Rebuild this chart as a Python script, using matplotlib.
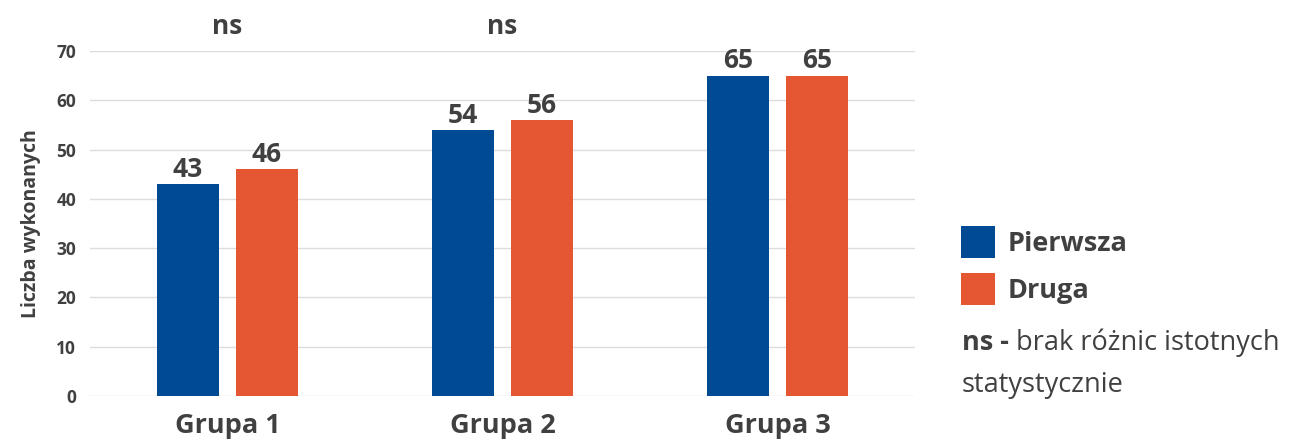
import matplotlib
matplotlib.use("Agg")
import matplotlib.pyplot as plt
import numpy as np

groups = ["Grupa 1", "Grupa 2", "Grupa 3"]
series_names = ["Pierwsza", "Druga"]
pierwsza = [43, 54, 65]
druga = [46, 56, 65]
significance = ["ns", "ns", ""]
y_ticks = [0, 10, 20, 30, 40, 50, 60, 70]

BLUE = "#004A93"
ORANGE = "#E55632"
TEXT = "#404040"
GRID = "#dcdcdc"

plt.rcParams["font.family"] = ["Open Sans", "DejaVu Sans"]

fig = plt.figure(figsize=(13, 4.41), dpi=100)
ax = fig.add_axes([0.0692, 0.102, 0.6346, 0.782])

x = np.arange(len(groups))
width = 0.225
offset = 0.144
b1 = ax.bar(x - offset, pierwsza, width, color=BLUE, label=series_names[0], zorder=3)
b2 = ax.bar(x + offset, druga, width, color=ORANGE, label=series_names[1], zorder=3)

for bars, vals in ((b1, pierwsza), (b2, druga)):
    for rect, v in zip(bars, vals):
        ax.text(rect.get_x() + rect.get_width() / 2, v + 0.3, str(v),
                ha="center", va="bottom", fontsize=19, fontweight="bold", color=TEXT)

for xi, s in zip(x, significance):
    if s:
        ax.text(xi, 1.072, s, transform=ax.get_xaxis_transform(),
                ha="center", va="center", fontsize=19, fontweight="bold", color=TEXT)

ax.set_xlim(-0.5, 2.5)
ax.set_ylim(0, 70)
ax.set_yticks(y_ticks)
ax.set_xticks(x)
ax.set_xticklabels(groups, fontsize=19.5, fontweight="bold", color=TEXT)
ax.tick_params(axis="x", length=0, pad=12)
ax.tick_params(axis="y", length=0, pad=10, labelsize=12.5, labelcolor=TEXT)
for lab in ax.get_yticklabels():
    lab.set_fontweight("bold")
ax.yaxis.grid(True, color=GRID, linewidth=1, zorder=0)
for sp in ax.spines.values():
    sp.set_visible(False)

ax.set_ylabel("Liczba wykonanych", fontsize=14, fontweight="bold", color=TEXT, labelpad=11)

leg = fig.legend(handles=[b1, b2], labels=series_names, loc="upper left",
                 bbox_to_anchor=(0.739, 0.487), frameon=False,
                 prop={"size": 19.5, "weight": "bold"}, handlelength=1.25,
                 handleheight=1.45, handletextpad=0.5, labelspacing=0.55,
                 borderpad=0, borderaxespad=0)
for t in leg.get_texts():
    t.set_color(TEXT)

t1 = fig.text(0.740, 0.222, "ns - ", fontsize=19.5, fontweight="bold", color=TEXT, va="center")
ax.annotate("brak różnic istotnych", xy=(1, 0.5), xycoords=t1, va="center",
            fontsize=19.5, color=TEXT, annotation_clip=False)
fig.text(0.740, 0.128, "statystycznie", fontsize=19.5, color=TEXT, va="center")

fig.savefig("out.png", dpi=100)
